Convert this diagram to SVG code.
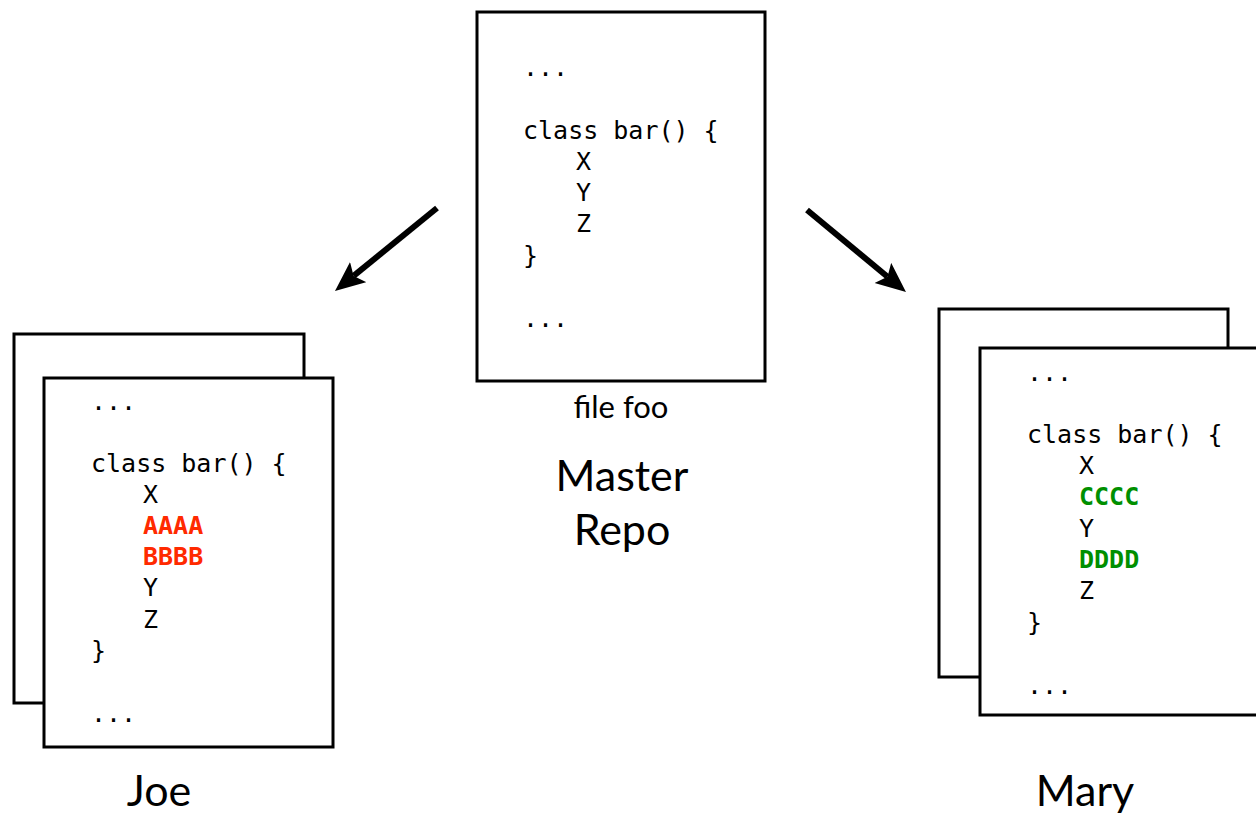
<svg xmlns="http://www.w3.org/2000/svg" width="1256" height="814" viewBox="0 0 1256 814">
  <style>
    .page { fill: #ffffff; stroke: #000000; stroke-width: 3; }
    .code { font-family: "DejaVu Sans Mono", "Liberation Mono", monospace; font-size: 25px; fill: #000000; }
    .joe-edit { font-weight: bold; fill: #ff2a00; }
    .mary-edit { font-weight: bold; fill: #008f00; }
    .label { font-family: "Lato", "Open Sans", sans-serif; fill: #000000; text-anchor: middle; }
    .arrow { stroke: #000000; stroke-width: 6; fill: none; marker-end: url(#head); }
  </style>
  <defs>
    <marker id="head" markerUnits="userSpaceOnUse" markerWidth="32" markerHeight="28" refX="6" refY="13" orient="auto">
      <path d="M0,0 L30,13 L0,26 L6,13 z" fill="#000000"/>
    </marker>
  </defs>
  <rect width="1256" height="814" fill="#ffffff"/>

  <!-- shared file in the central repository -->
  <g id="master">
    <rect class="page" x="477" y="12" width="288" height="369"/>
    <text class="code" x="523" y="76">...</text>
    <text class="code" x="523" y="139">class bar() {</text>
    <text class="code" x="576" y="170">X</text>
    <text class="code" x="576" y="201">Y</text>
    <text class="code" x="576" y="232">Z</text>
    <text class="code" x="523" y="264">}</text>
    <text class="code" x="523" y="327">...</text>
    <text class="label" x="621" y="418" font-size="31">file foo</text>
    <text class="label" x="622" y="491" font-size="43">Master</text>
    <text class="label" x="622" y="545" font-size="43">Repo</text>
  </g>

  <!-- Joe's working copy -->
  <g id="joe">
    <rect class="page" x="14" y="334" width="290" height="369"/>
    <rect class="page" x="44" y="378" width="289" height="369"/>
    <text class="code" x="91" y="410">...</text>
    <text class="code" x="91" y="472">class bar() {</text>
    <text class="code" x="143" y="503">X</text>
    <text class="code joe-edit" x="143" y="534">AAAA</text>
    <text class="code joe-edit" x="143" y="565">BBBB</text>
    <text class="code" x="143" y="596">Y</text>
    <text class="code" x="143" y="628">Z</text>
    <text class="code" x="91" y="659">}</text>
    <text class="code" x="91" y="722">...</text>
    <text class="label" x="159" y="806" font-size="43">Joe</text>
  </g>

  <!-- Mary's working copy -->
  <g id="mary">
    <rect class="page" x="939" y="309" width="289" height="368"/>
    <rect class="page" x="980" y="348" width="289" height="367"/>
    <text class="code" x="1027" y="381">...</text>
    <text class="code" x="1027" y="443">class bar() {</text>
    <text class="code" x="1079" y="474">X</text>
    <text class="code mary-edit" x="1079" y="505">CCCC</text>
    <text class="code" x="1079" y="537">Y</text>
    <text class="code mary-edit" x="1079" y="568">DDDD</text>
    <text class="code" x="1079" y="599">Z</text>
    <text class="code" x="1027" y="631">}</text>
    <text class="code" x="1027" y="694">...</text>
    <text class="label" x="1085" y="806" font-size="43">Mary</text>
  </g>

  <g id="connectors">
    <line class="arrow" x1="437" y1="208" x2="353.6" y2="275.9"/>
    <line class="arrow" x1="807" y1="210" x2="887.5" y2="276.7"/>
  </g>
</svg>
